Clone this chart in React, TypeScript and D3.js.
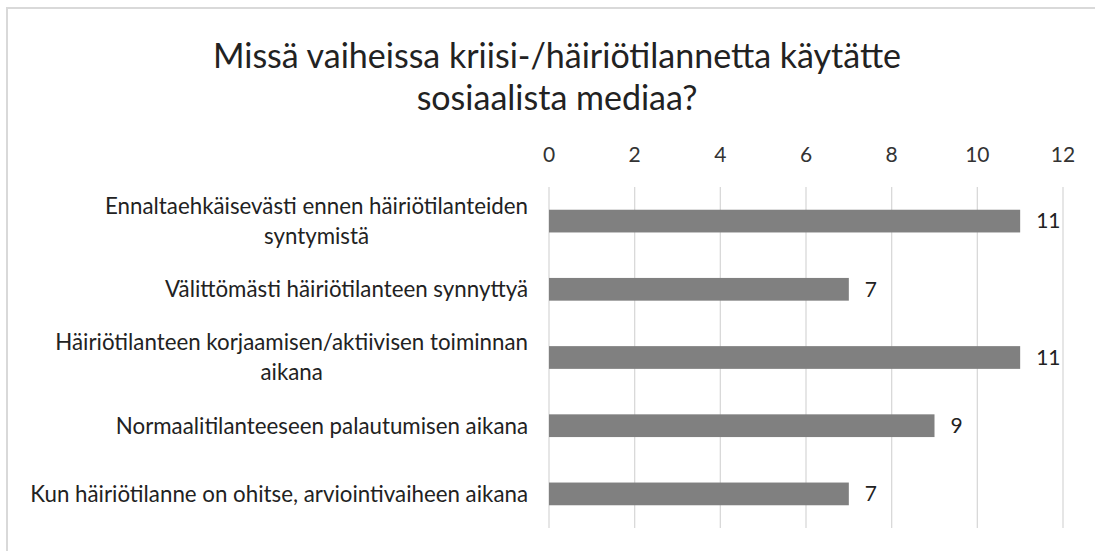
import React, { useEffect, useRef } from 'react';
import * as d3 from 'd3';

// chart data
const categories = [
  ['Ennaltaehkäisevästi ennen häiriötilanteiden', 'syntymistä'],
  ['Välittömästi häiriötilanteen synnyttyä'],
  ['Häiriötilanteen korjaamisen/aktiivisen toiminnan', 'aikana'],
  ['Normaalitilanteeseen palautumisen aikana'],
  ['Kun häiriötilanne on ohitse, arviointivaiheen aikana'],
];
const values = [11, 7, 11, 9, 7];
const ticks = [0, 2, 4, 6, 8, 10, 12];
const titleLines = ['Missä vaiheissa kriisi-/häiriötilannetta käytätte', 'sosiaalista mediaa?'];

const FONT = "Lato, 'Open Sans', sans-serif";

export default function App() {
  const svgRef = useRef<SVGSVGElement>(null);

  useEffect(() => {
    const svg = d3.select(svgRef.current);
    svg.selectAll('*').remove();

    const width = 1095;
    const height = 551;
    const plot = { left: 549, right: 1063, top: 187, bottom: 528 };

    // chart border (only top/left visible in the crop)
    svg.append('rect')
      .attr('x', 7).attr('y', 8)
      .attr('width', width + 20).attr('height', height + 20)
      .attr('fill', 'white')
      .attr('stroke', '#d9d9d9')
      .attr('stroke-width', 2);

    // title
    svg.append('g').selectAll('text')
      .data(titleLines)
      .enter().append('text')
      .attr('x', 557)
      .attr('y', (d, i) => 68 + i * 42)
      .attr('text-anchor', 'middle')
      .attr('font-family', FONT)
      .attr('font-size', 34)
      .attr('fill', '#222')
      .text(d => d);

    const x = d3.scaleLinear().domain([0, 12]).range([plot.left, plot.right]);
    const y = d3.scaleBand<number>()
      .domain(d3.range(categories.length))
      .range([plot.top, plot.bottom])
      .paddingInner(2 / 3)
      .paddingOuter(1 / 3);

    // gridlines
    svg.append('g').selectAll('line')
      .data(ticks)
      .enter().append('line')
      .attr('x1', d => x(d)).attr('x2', d => x(d))
      .attr('y1', plot.top).attr('y2', plot.bottom)
      .attr('stroke', '#d9d9d9')
      .attr('stroke-width', 1.3);

    // top axis labels
    svg.append('g').selectAll('text')
      .data(ticks)
      .enter().append('text')
      .attr('x', d => x(d))
      .attr('y', 162)
      .attr('text-anchor', 'middle')
      .attr('font-family', FONT)
      .attr('font-size', 21)
      .attr('fill', '#333')
      .text(d => d);

    // bars
    svg.append('g').selectAll('rect')
      .data(values)
      .enter().append('rect')
      .attr('x', x(0))
      .attr('y', (d, i) => y(i)!)
      .attr('width', d => x(d) - x(0))
      .attr('height', y.bandwidth())
      .attr('fill', '#808080');

    // value labels
    svg.append('g').selectAll('text')
      .data(values)
      .enter().append('text')
      .attr('x', d => x(d) + 16)
      .attr('y', (d, i) => y(i)! + y.bandwidth() / 2)
      .attr('dy', '0.35em')
      .attr('font-family', FONT)
      .attr('font-size', 21)
      .attr('fill', '#222')
      .text(d => d);

    // category labels, wrapped lines centered with each other
    const lineH = 30;
    categories.forEach((lines, i) => {
      const cy = y(i)! + y.bandwidth() / 2;
      const g = svg.append('g');
      const texts = g.selectAll('text')
        .data(lines)
        .enter().append('text')
        .attr('y', (d, j) => cy + (j - (lines.length - 1) / 2) * lineH)
        .attr('dy', '0.35em')
        .attr('text-anchor', 'middle')
        .attr('font-family', FONT)
        .attr('font-size', 22.3)
        .attr('fill', '#222')
        .text(d => d);
      const widest = d3.max(texts.nodes(), n => (n as SVGTextElement).getComputedTextLength()) || 0;
      texts.attr('x', 528 - widest / 2);
    });
  }, []);

  return (
    <svg
      ref={svgRef}
      width={1095}
      height={551}
      style={{ position: 'absolute', left: 0, top: 0, background: 'white' }}
    />
  );
}
